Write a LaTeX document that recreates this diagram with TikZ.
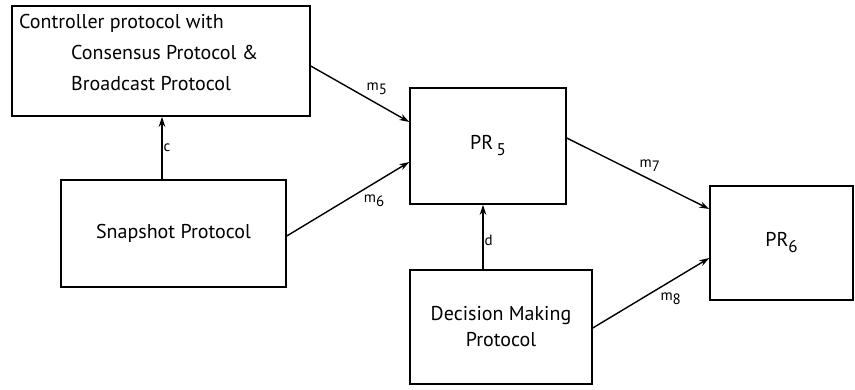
\documentclass[tikz,border=0pt]{standalone}
\usepackage{fontspec}
\setmainfont{PT Sans}
\usetikzlibrary{arrows.meta}
\newcommand{\lowsub}[2]{#1\raisebox{-#2}{}}
\newcommand{\msg}[1]{m\raisebox{-4pt}{#1}}
\begin{document}
\begin{tikzpicture}[x=1pt,y=-1pt,
  box/.style={draw,line width=1.5pt,inner sep=0pt,font=\fontsize{20}{26}\selectfont},
  arr/.style={line width=1.4pt,-{Stealth[length=10pt,width=6.5pt]}},
  lbl/.style={font=\fontsize{15}{15}\selectfont,inner sep=1pt}]
\useasboundingbox (0,0) rectangle (855,389);

% protocol boxes
\node[box,minimum width=298pt,minimum height=110pt] (ctrl) at (161,61) {};
\node[anchor=north west,align=left,inner sep=0pt,font=\fontsize{20}{31}\selectfont] (ctrltext) at (19,14)
  {Controller protocol with\\\hspace*{52pt}Consensus Protocol \&\\\hspace*{52pt}Broadcast Protocol};
\node[box,minimum width=225pt,minimum height=107pt] (snap) at (173.5,233.5) {Snapshot Protocol};
\node[box,minimum width=156pt,minimum height=116pt] (pr5) at (488,146)
  {PR\,\raisebox{-6pt}{\fontsize{17}{17}\selectfont 5}};
\node[box,minimum width=182pt,minimum height=114pt,align=center] (dec) at (501,327) {Decision Making\\Protocol};
\node[box,minimum width=143pt,minimum height=114pt] (pr6) at (781.5,243)
  {PR\raisebox{-6pt}{\fontsize{17}{17}\selectfont 6}};

% connectors
\draw[arr] ([xshift=-11.5pt]snap.north) -- ([xshift=-11.5pt]snap.north |- ctrl.south)
  node[lbl,pos=0.5,right] (lc) {c};
\draw[arr] ([yshift=-5pt]ctrl.east) -- ([yshift=24pt]pr5.west)
  node[lbl,pos=0.55,above right] (l5) {\msg{5}};
\draw[arr] ([yshift=-2.5pt]snap.east) -- ([yshift=-16pt]pr5.west)
  node[lbl,pos=0.6,below right=2pt] (l6) {\msg{6}};
\draw[arr] ([yshift=8pt]pr5.east) -- ([yshift=34pt]pr6.west)
  node[lbl,pos=0.5,above right] (l7) {\msg{7}};
\draw[arr] ([xshift=-18pt]dec.north) -- ([xshift=-18pt]dec.north |- pr5.south)
  node[lbl,pos=0.45,right] (ld) {d};
\draw[arr] ([yshift=-1pt]dec.east) -- ([yshift=-15pt]pr6.west)
  node[lbl,pos=0.55,below right=2pt] (l8) {\msg{8}};
\end{tikzpicture}
\end{document}
